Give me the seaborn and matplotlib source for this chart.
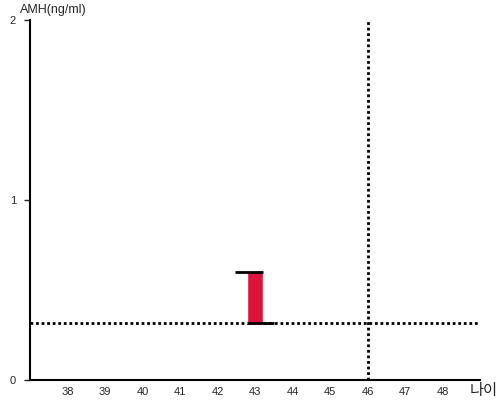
import matplotlib
matplotlib.use("Agg")
import matplotlib.pyplot as plt
import seaborn as sns

sns.set_theme(style="white")
plt.rcParams["font.family"] = ["Liberation Sans", "Noto Sans CJK KR", "DejaVu Sans"]

# data
ages = [43]
amh_low = [0.315]
amh_high = [0.6]
ref_age = 46
ref_amh = 0.315
x_ticks = list(range(38, 49))
y_ticks = [0, 1, 2]

fig = plt.figure(figsize=(5, 4), dpi=100)
ax = fig.add_axes([0.06, 0.05, 0.9, 0.9])

# reference lines
sns.lineplot(x=[37, 49], y=[ref_amh, ref_amh], ax=ax, color="black",
             lw=2, dashes=False, zorder=1)
ax.lines[-1].set_dashes((1, 1))
sns.lineplot(x=[ref_age, ref_age], y=[0, 2], ax=ax, color="black",
             lw=2, zorder=1, orient="y")
ax.lines[-1].set_dashes((1, 1))

# range bar
heights = [h - l for h, l in zip(amh_high, amh_low)]
ax.bar(ages, heights, bottom=amh_low, width=0.42, color="#DC143C", zorder=2)
for a, lo, hi in zip(ages, amh_low, amh_high):
    ax.hlines(hi, a - 0.54, a + 0.21, color="black", lw=2, zorder=3)
    ax.hlines(lo, a - 0.21, a + 0.5, color="black", lw=2, zorder=3)

ax.set_xlim(37, 49)
ax.set_ylim(0, 2)
ax.set_xticks(x_ticks)
ax.set_yticks(y_ticks)
ax.tick_params(axis="x", length=0, labelsize=8, pad=5)
ax.tick_params(axis="y", length=4, width=1, labelsize=8, pad=6, left=True)

for s in ["top", "right"]:
    ax.spines[s].set_visible(False)
for s in ["left", "bottom"]:
    ax.spines[s].set_color("black")
    ax.spines[s].set_linewidth(1.5)

ax.set_xlabel("")
ax.set_ylabel("")
fig.text(0.04, 0.975, "AMH(ng/ml)", fontsize=9, ha="left", va="center")
fig.text(0.995, 0.025, "나이", fontsize=11, ha="right", va="center",
         family=["Noto Sans CJK KR", "DejaVu Sans"])

fig.savefig("out.png", dpi=100)
